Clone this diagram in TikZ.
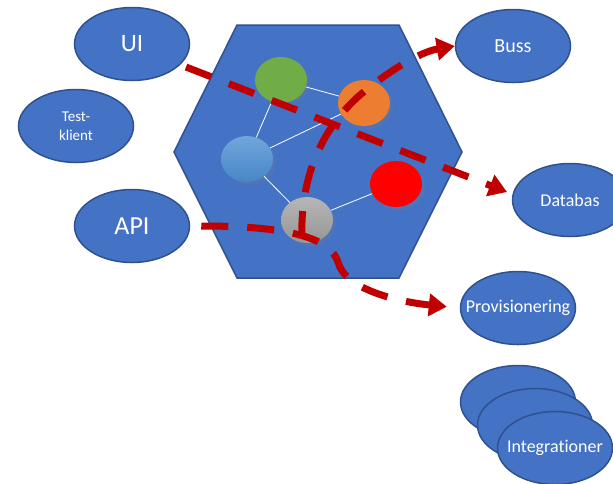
\documentclass[tikz,border=0pt]{standalone}
\usepackage{fontspec}
\setmainfont{Carlito}[Ligatures=NoCommon]
\usetikzlibrary{arrows.meta,positioning,shapes.geometric,shadows}
\definecolor{boxblue}{HTML}{4472C4}
\definecolor{boxedge}{HTML}{2F528F}
\definecolor{flowred}{HTML}{C00000}
\newcommand{\lbl}[1]{\makebox[0pt][c]{#1}}
\tikzset{
  part/.style={ellipse,draw=boxedge,line width=1.5pt,fill=boxblue,text=white,
    minimum width=115pt,minimum height=73pt,inner sep=0pt},
  comp/.style={ellipse,minimum width=52pt,minimum height=46pt,inner sep=0pt,
    drop shadow={opacity=0.2,shadow xshift=3pt,shadow yshift=-3pt}},
  link/.style={white,line width=0.8pt},
  flow/.style={flowred,line width=7pt,dash pattern=on 27pt off 19pt,
    -{Triangle[length=18pt,width=22pt]}},
}

\begin{document}
\begin{tikzpicture}[x=1pt,y=-1pt]
\useasboundingbox (0,0) rectangle (613,483);
% hexagon
\draw[boxedge,line width=1.5pt,fill=boxblue] (174,152) coordinate(L) -- (237,25) coordinate(TL) -- (399,25) coordinate(TR) -- (462,152) coordinate(R) -- (399,278) coordinate(BR) -- (237,278) coordinate(BL) -- cycle;

% outside parts
\node[part,font=\fontsize{25}{29}\selectfont] (ui) at (132,44) {UI};
\node[part,font=\fontsize{15}{19.5}\selectfont,align=center] (test) at (76,126) {Test-\\klient};
\node[part,font=\fontsize{26}{30}\selectfont] (api) at (132,226) {API};
\node[part,font=\fontsize{20}{24}\selectfont] (buss) at (513,46) {Buss};
\node[part,font=\fontsize{18}{22}\selectfont] (db) at (570,200) {Databas};
\node[part,font=\fontsize{18}{22}\selectfont] (prov) at (518,308) {\lbl{Provisionering}};
\node[part] (int1) at (518,402) {};
\node[part] (int2) at (535,425) {};
\node[part,font=\fontsize{18}{22}\selectfont] (int3) at (555,448) {\lbl{Integrationer}};

% components
\node[comp,fill={rgb,255:red,112;green,173;blue,71}] (green) at (281,80) {};
\node[comp,fill={rgb,255:red,237;green,125;blue,49}] (orange) at (364,103) {};
\node[comp,top color={rgb,255:red,112;green,166;blue,220},bottom color={rgb,255:red,72;green,134;blue,198}] (blue) at (247,159) {};
\node[comp,fill=red] (red) at (396,184) {};
\node[comp,top color={rgb,255:red,182;green,182;blue,182},bottom color={rgb,255:red,150;green,150;blue,150}] (gray) at (307,220) {};
\draw[link] (green) -- (orange);
\draw[link] (green) -- (blue);
\draw[link] (blue) -- (orange);
\draw[link] (blue) -- (gray);
\draw[link] (gray) -- (red);

% flows
\coordinate (uiout) at (186,67);
\coordinate (dbin) at (507,192);
\coordinate (grayout) at (302,238);
\draw[flow] (uiout) -- (dbin);
\draw[flow,shorten <=11pt,shorten >=13pt] (api.east) .. controls (290,226) and (330,238) .. (338,262) .. controls (345,290) and (400,302) .. (prov.west);
\draw[flow] (grayout) .. controls (300,180) and (320,130) .. (360,95) .. controls (390,70) and (420,52) .. (buss.west);
\end{tikzpicture}
\end{document}
